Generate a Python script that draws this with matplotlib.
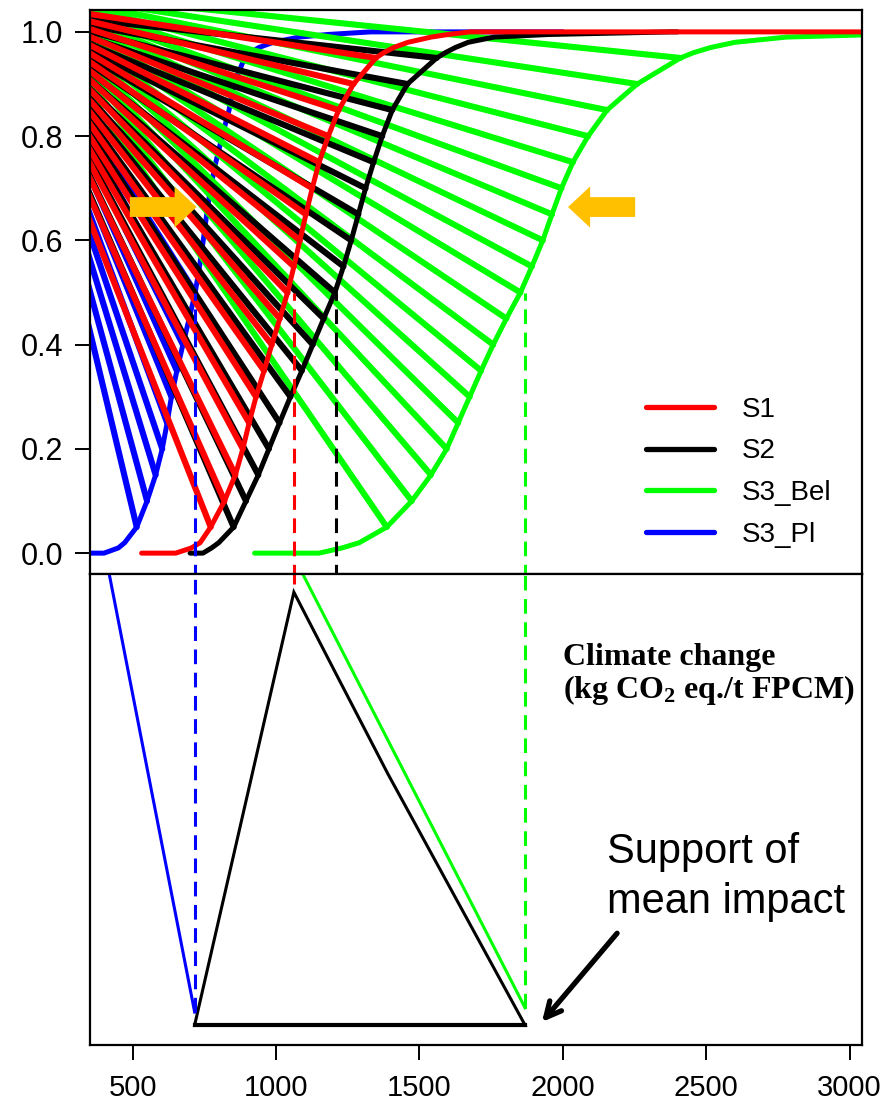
import numpy as np
import matplotlib.pyplot as plt
from matplotlib.patches import FancyArrow

plt.rcParams['font.family'] = ['Liberation Sans', 'DejaVu Sans']
plt.rcParams['mathtext.fontset'] = 'custom'
plt.rcParams['mathtext.rm'] = 'Liberation Serif:bold'
plt.rcParams['mathtext.it'] = 'Liberation Serif:bold'
plt.rcParams['mathtext.bf'] = 'Liberation Serif:bold'

# cumulative probability levels shared by the four curves
p_grid = [0.0, 0.0, 0.01, 0.02, 0.05, 0.10, 0.15, 0.20, 0.25, 0.30, 0.35, 0.40,
          0.45, 0.50, 0.55, 0.60, 0.65, 0.70, 0.75, 0.80, 0.85, 0.90, 0.95,
          0.96, 0.97, 0.98, 0.99, 0.995, 1.0, 1.0]

scenarios = ['S1', 'S2', 'S3_Bel', 'S3_Pl']
colors = ['#FF0000', '#000000', '#00FF00', '#0000FF']

x_s1 = [531, 650, 705, 735, 772, 820, 858, 884, 906, 930, 958, 985, 1013, 1040,
        1062, 1083, 1104, 1126, 1150, 1182, 1218, 1270, 1348,
        1375, 1410, 1460, 1540, 1600, 1676, 3100]
x_s2 = [700, 745, 775, 800, 852, 895, 938, 975, 1012, 1050, 1090, 1128, 1166, 1205,
        1235, 1262, 1287, 1312, 1340, 1370, 1405, 1458, 1560,
        1590, 1625, 1670, 1760, 1950, 2380, 2400]
x_s3_bel = [925, 1150, 1230, 1290, 1386, 1473, 1540, 1595, 1635, 1675, 1715, 1757,
            1803, 1852, 1892, 1930, 1962, 1995, 2035, 2088, 2154, 2259, 2410,
            2455, 2515, 2600, 2780, 3100, 3400, 3500]
x_s3_pl = [351, 400, 450, 472, 514, 550, 580, 603, 620, 635, 654, 675, 697, 718,
           733, 746, 758, 771, 790, 812, 836, 853, 890,
           910, 940, 990, 1080, 1180, 1330, 2000]
curves_x = [x_s1, x_s2, x_s3_bel, x_s3_pl]

# fan lines: drawn from curve points up to this level, toward a far point
fan_top = [0.95, 0.95, 0.95, 0.50]
fan_x0 = [47, 75, 102, 75]
fan_y0 = [1.06, 1.04, 1.08, 1.06]

# medians / support of the mean impact
median_x = [1062, 1208, 1868, 716]
dash_low = [1.02, 1.05, 0.04, 0.03]

tri_x = [716, 1062, 1210, 1390, 1868]
tri_y = [0.0, 1.0, 0.81, 0.58, 0.0]
blue_side_x = [401, 716]
blue_side_y = [1.10, 0.03]
green_side_x = [1048, 1868]
green_side_y = [1.10, 0.04]

fig = plt.figure(figsize=(8.83, 11.10), dpi=100)
ax1 = fig.add_axes([0.1019, 0.4829, 0.8743, 0.5081])
ax2 = fig.add_axes([0.1019, 0.0586, 0.8743, 0.4243])

p = np.array(p_grid)
fan_levels = np.round(np.arange(0.05, 0.951, 0.05), 2)
for i in [3, 2, 1, 0]:
    xs = np.array(curves_x[i])
    sel = np.isin(np.round(p, 3), fan_levels) & (p <= fan_top[i] + 0.001)
    for xe, pe in zip(xs[sel], p[sel]):
        ax1.plot([xe, fan_x0[i]], [pe, fan_y0[i]], color=colors[i], lw=4.4,
                 solid_capstyle='round')
    ax1.plot(xs, p, color=colors[i], lw=3.6, solid_capstyle='round',
             solid_joinstyle='round')

for i in range(4):
    ax1.vlines(median_x[i], -0.05, 0.5, color=colors[i], lw=2.2,
               linestyles=(0, (4.8, 2.8)))
    ax2.vlines(median_x[i], dash_low[i], 1.06, color=colors[i], lw=2.2,
               linestyles=(0, (4.8, 2.8)))

for xa, dx in [(490, 233), (2252, -234)]:
    ax1.add_patch(FancyArrow(xa, 0.664, dx, 0, width=0.038, head_width=0.079,
                             head_length=77, length_includes_head=True,
                             color='#FFC000', lw=0, zorder=10))

handles = [plt.Line2D([], [], color=c, lw=3.8, solid_capstyle='round') for c in colors]
ax1.legend(handles, scenarios, loc='upper left', bbox_to_anchor=(0.72, 0.314),
           frameon=False, fontsize=20, handlelength=2.45, handletextpad=1.0,
           labelspacing=0.56, borderpad=0, borderaxespad=0)

ax1.set_xlim(351, 3043)
ax1.set_ylim(-0.04, 1.042)
ax1.set_xticks([])
ax1.set_yticks([0, 0.2, 0.4, 0.6, 0.8, 1.0])
ax1.set_yticklabels(['0.0', '0.2', '0.4', '0.6', '0.8', '1.0'])
ax1.tick_params(axis='y', length=11, width=1.4, pad=8, labelsize=22)

ax2.plot(blue_side_x, blue_side_y, color='#0000FF', lw=2.2)
ax2.plot(green_side_x, green_side_y, color='#00FF00', lw=2.2)
ax2.fill(tri_x, tri_y, facecolor='none', edgecolor='black', lw=2.2)
ax2.plot([tri_x[0], tri_x[-1]], [0, 0], color='black', lw=3)

ax2.text(2000, 0.85, 'Climate change', family='Liberation Serif', weight='bold',
         fontsize=23, va='center', ha='left')
ax2.text(2000, 0.774, r'(kg CO$_2$ eq./t FPCM)', family='Liberation Serif',
         weight='bold', fontsize=23, va='center', ha='left')
ax2.text(2154, 0.374, 'Support of', fontsize=30, ha='left', va='baseline')
ax2.text(2154, 0.259, 'mean impact', fontsize=30, ha='left', va='baseline')
ax2.annotate('', xy=(1927, 0.007), xytext=(2189, 0.212),
             arrowprops=dict(arrowstyle='->,head_length=1.1,head_width=0.55',
                             lw=3.8, color='black', shrinkA=0, shrinkB=0))

ax2.set_xlim(351, 3043)
ax2.set_ylim(-0.046, 1.042)
ax2.set_yticks([])
ax2.set_xticks([500, 1000, 1500, 2000, 2500, 3000])
ax2.tick_params(axis='x', length=11, width=1.4, pad=10, labelsize=21)

for ax in (ax1, ax2):
    for s in ax.spines.values():
        s.set_linewidth(1.6)

fig.savefig('out.png', dpi=100)
